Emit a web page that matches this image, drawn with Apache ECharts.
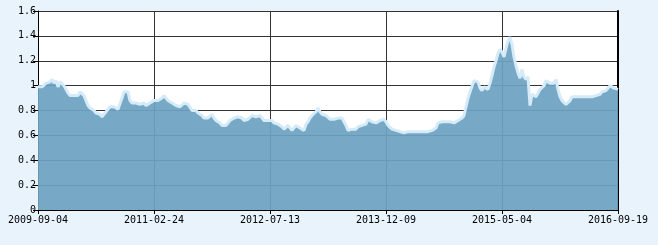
<!DOCTYPE html>
<html>
<head>
<meta charset="utf-8">
<script src="https://cdn.jsdelivr.net/npm/echarts@6/dist/echarts.min.js"></script>
<style>
html,body{margin:0;padding:0;background:#e8f3fb;}
#chart{width:658px;height:245px;}
</style>
</head>
<body>
<div id="chart"></div>
<script>
// Tick labels of the x axis (evenly spaced in trading days)
var xTickLabels = ['2009-09-04', '2011-02-24', '2012-07-13', '2013-12-09', '2015-05-04', '2016-09-19'];
// Sampled values (equally spaced observations from 2009-09-04 to 2016-09-19)
var navValues = [
0.99,0.98,0.99,1.00,1.02,1.01,1.03,1.05,1.02,1.04,0.99,1.03,1.02,1.00,0.97,0.94,0.92,0.93,0.92,0.93,
0.92,0.95,0.94,0.92,0.88,0.84,0.82,0.81,0.80,0.78,0.79,0.77,0.75,0.77,0.79,0.81,0.83,0.82,0.83,0.82,
0.81,0.80,0.90,0.95,0.96,0.95,0.88,0.86,0.87,0.86,0.87,0.85,0.86,0.86,0.84,0.83,0.86,0.87,0.88,0.87,
0.88,0.89,0.90,0.92,0.90,0.88,0.87,0.86,0.85,0.84,0.84,0.83,0.83,0.86,0.86,0.85,0.84,0.80,0.79,0.80,
0.78,0.77,0.76,0.74,0.73,0.74,0.75,0.77,0.74,0.72,0.71,0.70,0.68,0.67,0.68,0.70,0.72,0.73,0.74,0.73,
0.75,0.75,0.74,0.72,0.71,0.73,0.74,0.76,0.77,0.75,0.75,0.76,0.74,0.72,0.73,0.72,0.71,0.72,0.70,0.71,
0.69,0.68,0.67,0.65,0.66,0.68,0.66,0.64,0.66,0.68,0.67,0.66,0.65,0.64,0.69,0.71,0.74,0.76,0.77,0.79,
0.82,0.79,0.77,0.78,0.76,0.75,0.73,0.74,0.73,0.72,0.74,0.75,0.74,0.71,0.68,0.64,0.64,0.65,0.64,0.65,
0.67,0.68,0.68,0.69,0.69,0.73,0.72,0.71,0.71,0.70,0.70,0.72,0.72,0.73,0.71,0.68,0.67,0.65,0.66,0.64,
0.64,0.63,0.62,0.62,0.61,0.63,0.64,0.63,0.64,0.63,0.64,0.63,0.63,0.63,0.64,0.63,0.63,0.64,0.64,0.66,
0.70,0.71,0.71,0.70,0.71,0.70,0.71,0.71,0.70,0.71,0.72,0.72,0.74,0.76,0.83,0.90,0.95,0.96,1.04,1.05,
1.03,0.98,0.96,0.99,0.98,0.97,1.02,1.08,1.15,1.20,1.26,1.29,1.27,1.23,1.30,1.36,1.39,1.33,1.23,1.16,
1.10,1.06,1.13,1.07,1.05,1.07,0.84,0.93,0.92,0.91,0.94,0.97,0.98,1.00,1.04,1.03,1.02,1.01,1.02,1.05,
0.97,0.91,0.88,0.87,0.85,0.86,0.88,0.91,0.90,0.91,0.92,0.91,0.92,0.91,0.90,0.91,0.90,0.91,0.90,0.92,
0.92,0.93,0.95,0.96,0.96,0.98,1.00,0.99,0.98,0.99,0.97
];
var yMin = 0, yMax = 1.6, yStep = 0.2;

var lastIndex = navValues.length - 1;
var xStep = lastIndex / (xTickLabels.length - 1);
var seriesData = navValues.map(function (v, i) { return [i, v]; });

var chart = echarts.init(document.getElementById('chart'), null, {renderer: 'canvas'});
var labelFont = {color: '#000', fontFamily: 'DejaVu Sans Mono', fontSize: 10};
chart.setOption({
  backgroundColor: '#e8f3fb',
  animation: false,
  grid: {left: 38, right: 40, top: 11, bottom: 35, show: true, backgroundColor: '#ffffff', borderWidth: 0},
  xAxis: {
    type: 'value', min: 0, max: lastIndex, interval: xStep,
    axisLine: {show: true, onZero: false, lineStyle: {color: '#000', width: 1}},
    axisTick: {show: true, length: 4, lineStyle: {color: '#000'}},
    axisLabel: Object.assign({margin: 5, showMinLabel: true, showMaxLabel: true,
      formatter: function (v) { var k = Math.round(v / xStep); return xTickLabels[k] || ''; }}, labelFont),
    splitLine: {show: true, lineStyle: {color: '#333', width: 1}}
  },
  yAxis: [{
    type: 'value', min: yMin, max: yMax, interval: yStep,
    axisLine: {show: true, lineStyle: {color: '#000', width: 1}},
    axisTick: {show: true, length: 5, lineStyle: {color: '#000'}},
    axisLabel: Object.assign({margin: 2}, labelFont),
    splitLine: {show: true, lineStyle: {color: '#333', width: 1}}
  }, {
    type: 'value', min: yMin, max: yMax, interval: yStep, position: 'right',
    axisLine: {show: true, lineStyle: {color: '#000', width: 2}},
    axisTick: {show: false}, axisLabel: {show: false}, splitLine: {show: false}
  }],
  series: [{
    type: 'line',
    data: seriesData,
    showSymbol: false,
    symbol: 'none',
    lineStyle: {color: '#d6ebf8', width: 3},
    areaStyle: {color: 'rgb(109,163,195)', opacity: 0.93},
    z: 2
  }]
});
</script>
</body>
</html>
